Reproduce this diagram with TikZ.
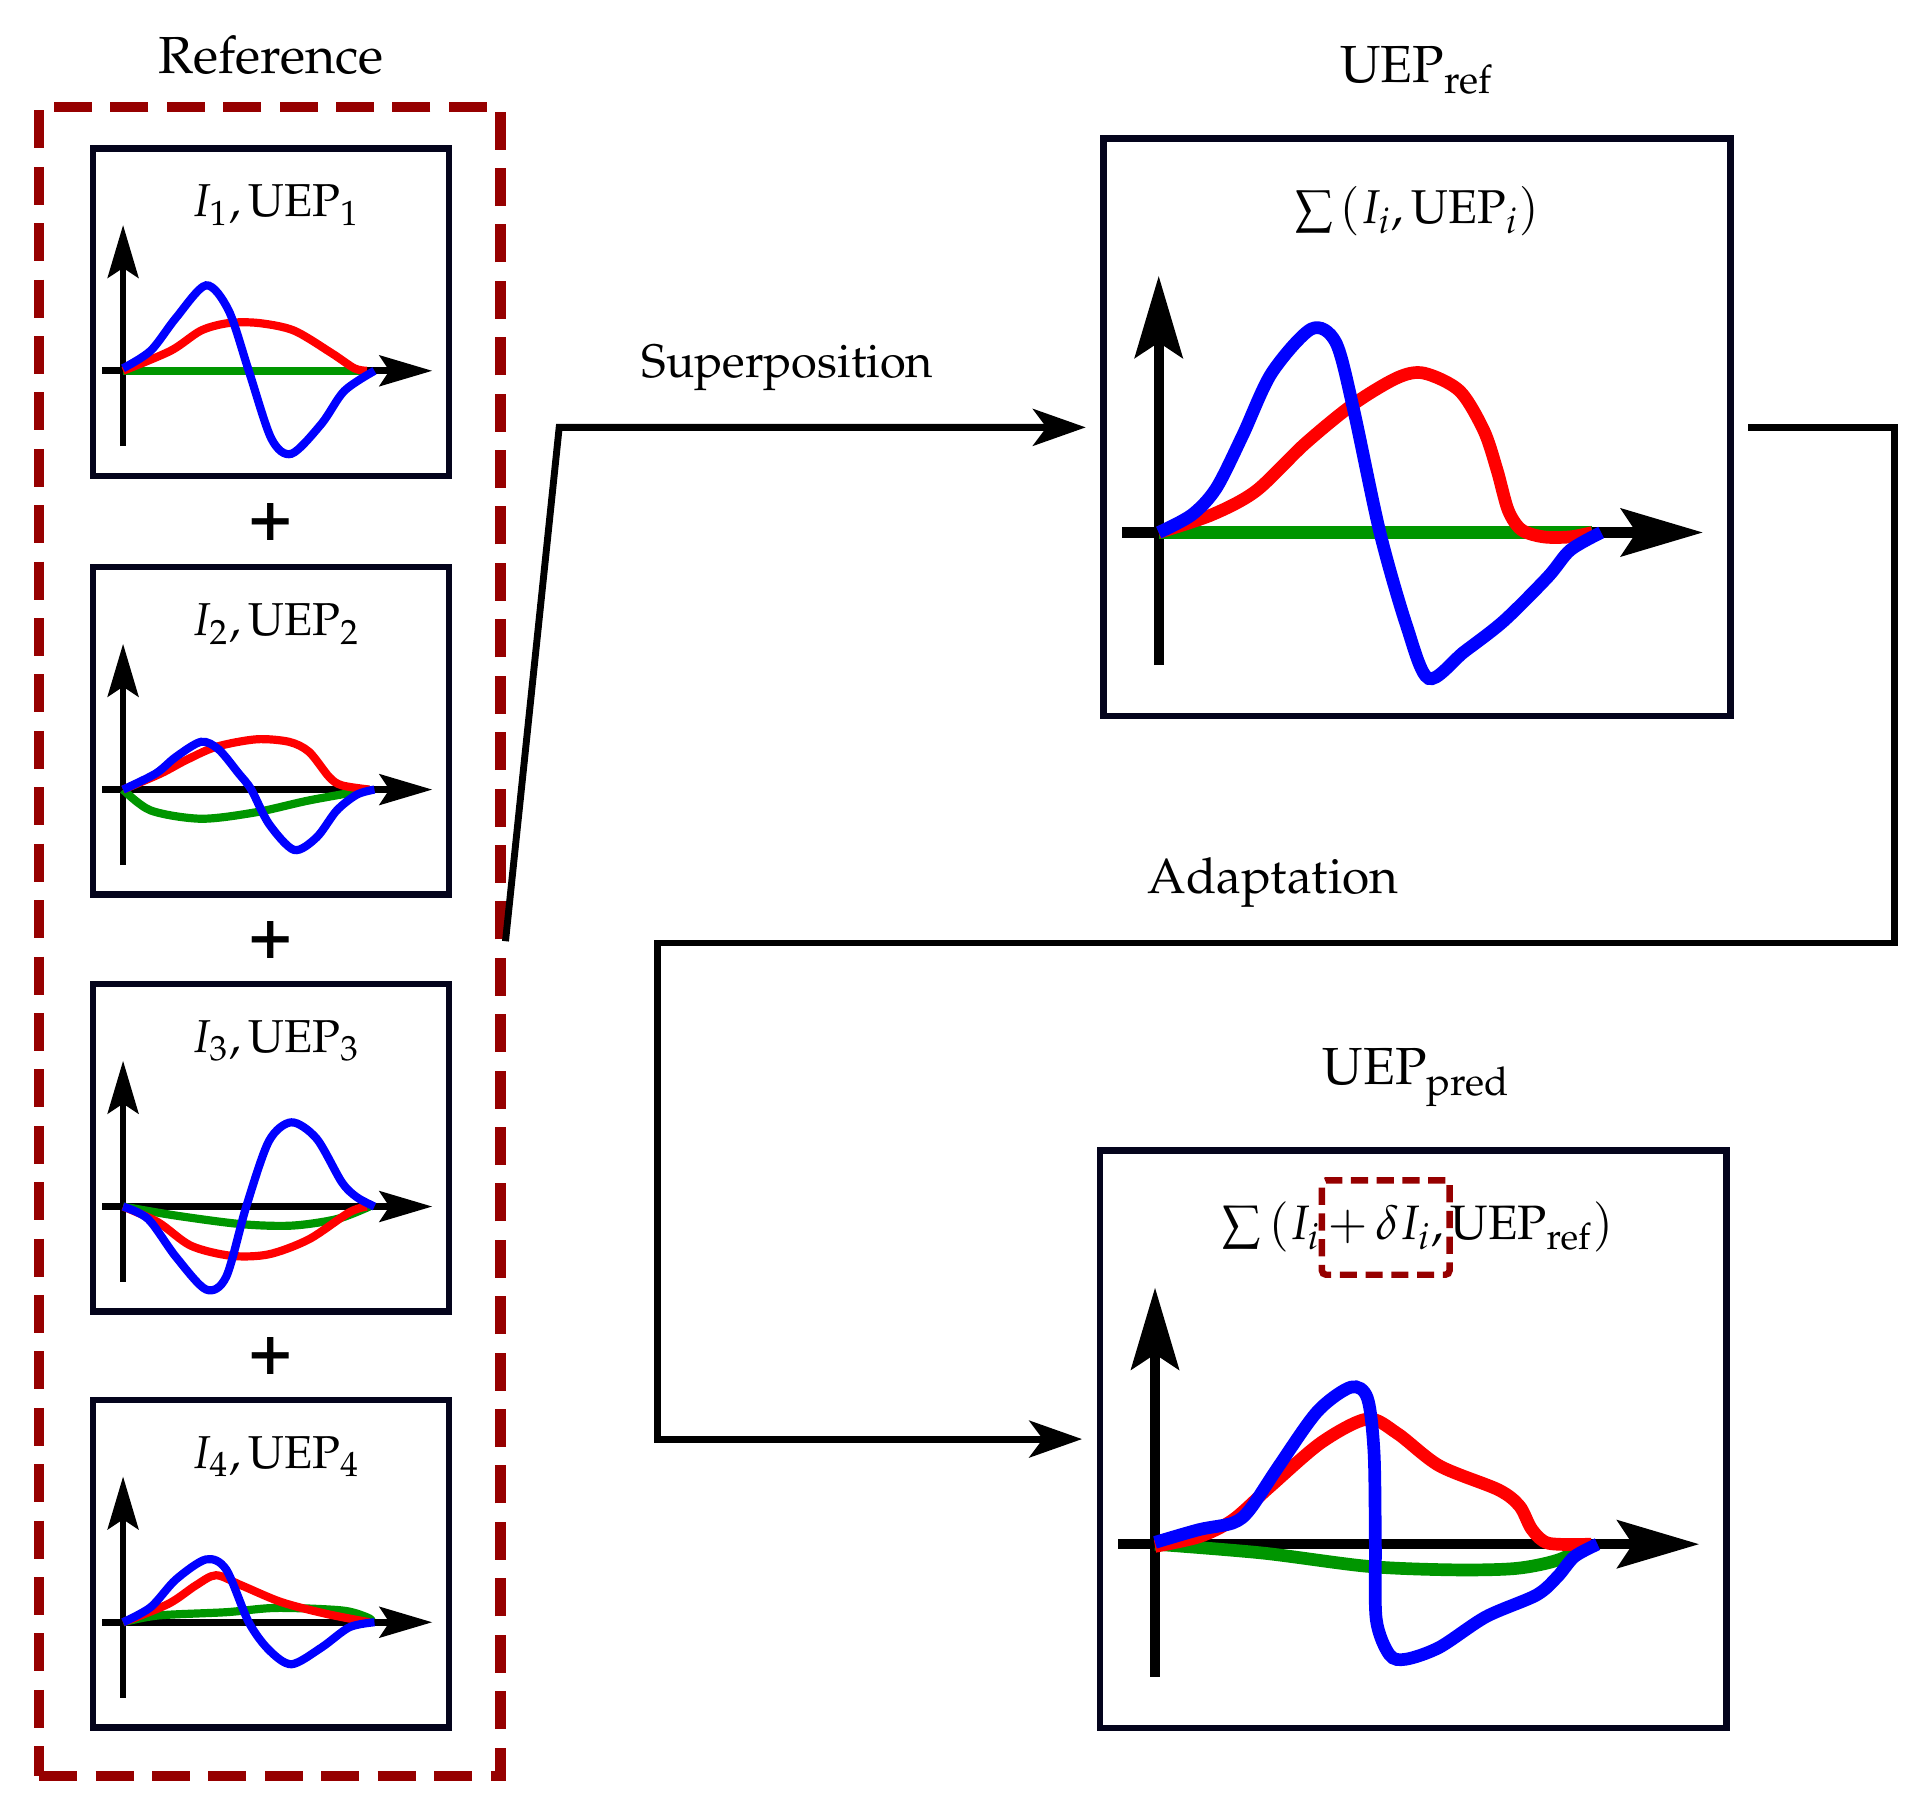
\documentclass[tikz,border=0pt]{standalone}
\usepackage[T1]{fontenc}
\usepackage{mathpazo}
\usepackage{amsmath}
\usetikzlibrary{arrows.meta,positioning,calc}

\definecolor{refred}{RGB}{150,0,0}
\definecolor{boxnavy}{RGB}{4,4,28}
\definecolor{curvegreen}{RGB}{0,150,0}

% axes of one panel, #1 = line/arrow factor
\newcommand{\drawaxes}[1]{%
  \draw[axis=#1] (-0.083,0) -- (1.23,0);
  \draw[axis=#1] (0,-0.30) -- (0,0.58);
}

\begin{document}
\begin{tikzpicture}[
  font=\fontsize{11.5}{14}\selectfont,
  title/.style={font=\fontsize{12.1}{14}\selectfont},
  boxlabel/.style={font=\fontsize{10.7}{13}\selectfont},
  panel/.style={draw=boxnavy, line width=1.5pt, minimum width=2.90cm, minimum height=2.67cm, inner sep=0pt},
  bigpanel/.style={panel, minimum width=5.11cm, minimum height=4.71cm},
  axis/.style={line width=1.55pt*#1, -{Stealth[length=4.3mm, width=2.5mm, inset=0.8mm, scale=#1]}},
  curve/.style={line width=1.9pt*#1},
  conn/.style={line width=1.6pt, -{Stealth[length=4.3mm, width=3mm, inset=1.1mm]}},
  dashbox/.style={draw=refred, line width=1.5pt, dash pattern=on 1.4mm off 0.7mm, rounded corners=1pt, inner xsep=0.5mm, inner ysep=0pt, minimum height=0.77cm, outer sep=0pt},
]
\useasboundingbox (0,0) rectangle (15.60,-14.77);

% Reference group
\node[draw=refred, line width=2.4pt, dash pattern=on 3.1mm off 1.5mm, minimum width=3.76cm, minimum height=13.61cm] (refbox) at (2.20,-7.675) {};
\node[title] (reftitle) at (2.21,-0.45) {Reference};

\node[panel] (p1) at (2.21,-2.545) {};
\node[panel] (p2) at (2.21,-5.96) {};
\node[panel] (p3) at (2.21,-9.36) {};
\node[panel] (p4) at (2.21,-12.75) {};

\node[boxlabel] (l1) at ($(p1.north)+(0.04,-0.49)$) {$I_1, \mathrm{UEP}_1$};
\node[boxlabel] (l2) at ($(p2.north)+(0.04,-0.49)$) {$I_2, \mathrm{UEP}_2$};
\node[boxlabel] (l3) at ($(p3.north)+(0.04,-0.49)$) {$I_3, \mathrm{UEP}_3$};
\node[boxlabel] (l4) at ($(p4.north)+(0.04,-0.49)$) {$I_4, \mathrm{UEP}_4$};

\foreach \a/\b in {p1/p2,p2/p3,p3/p4}
  \node[font=\fontsize{17}{18}\selectfont\bfseries] (plus-\a) at ($(\a.south)!0.5!(\b.north)$) {+};

% Superposed and predicted panels
\node[bigpanel] (uepref) at (11.555,-3.485) {};
\node[bigpanel] (ueppred) at (11.525,-11.735) {};

\node[title] (reftop) at ($(uepref.north)+(0,0.53)$) {$\mathrm{UEP}_{\mathrm{ref}}$};
\node[title] (predtop) at ($(ueppred.north)+(0.03,0.57)$) {$\mathrm{UEP}_{\mathrm{pred}}$};

\node[font=\fontsize{11}{13}\selectfont] (sumref) at ($(uepref.north)+(0,-0.62)$) {$\sum\,(I_i, \mathrm{UEP}_i)$};
\begin{scope}[font=\fontsize{11.2}{13}\selectfont]
\node[dashbox] (dI) at (11.30,-10.01) {$+\,\delta I_i,$};
\node[anchor=base east, inner sep=0pt] (sumA) at (dI.base west) {$\sum\,(I_i$};
\node[anchor=base west, inner sep=0pt] (sumC) at (dI.base east) {$\mathrm{UEP}_{\mathrm{ref}})$};
\end{scope}

% Connectors
\coordinate (sup) at (4.56,-3.485);
\draw[conn, shorten >=1.2mm] (refbox.east) -- (sup) -- (uepref.west);
\node[font=\fontsize{10.9}{13}\selectfont] (suplabel) at (6.42,-3.00) {Superposition};

\coordinate (adR) at (15.45,-3.485);
\coordinate (adL) at (5.36,-7.69);
\draw[conn, shorten <=1.2mm, shorten >=1.2mm] (uepref.east) -- (adR) |- (adL) |- (ueppred.west);
\node (adlabel) at (10.38,-7.20) {Adaptation};

% Panel 1
\begin{scope}[shift={(p1.north west)}, shift={(0.27,-1.84)}, scale=2.05]
\drawaxes{1}
\draw[curve=1, curvegreen] (0,0) -- (0.97,0);
\draw[curve=1, red] plot[smooth] coordinates {(0,0) (0.19,0.08) (0.31,0.16) (0.42,0.19) (0.54,0.19) (0.68,0.16) (0.83,0.07) (0.92,0.01) (0.97,0)};
\draw[curve=1, blue] plot[smooth] coordinates {(0,0.01) (0.11,0.08) (0.21,0.21) (0.33,0.34) (0.42,0.24) (0.50,0) (0.59,-0.27) (0.67,-0.33) (0.79,-0.21) (0.88,-0.08) (1.0,0)};
\end{scope}

% Panel 2
\begin{scope}[shift={(p2.north west)}, shift={(0.27,-1.84)}, scale=2.05]
\drawaxes{1}
\draw[curve=1, curvegreen] plot[smooth] coordinates {(0,0) (0.11,-0.083) (0.31,-0.116) (0.53,-0.09) (0.74,-0.043) (0.98,0)};
\draw[curve=1, red] plot[smooth] coordinates {(0,0) (0.15,0.064) (0.25,0.117) (0.37,0.17) (0.53,0.2) (0.66,0.19) (0.74,0.15) (0.82,0.05) (0.87,0.017) (0.98,0)};
\draw[curve=1, blue] plot[smooth] coordinates {(0,0) (0.13,0.064) (0.21,0.13) (0.31,0.19) (0.38,0.16) (0.46,0.064) (0.51,0) (0.58,-0.136) (0.68,-0.24) (0.77,-0.19) (0.85,-0.083) (0.93,-0.02) (1.0,0)};
\end{scope}

% Panel 3
\begin{scope}[shift={(p3.north west)}, shift={(0.27,-1.84)}, scale=2.05]
\drawaxes{1}
\draw[curve=1, curvegreen] plot[smooth] coordinates {(0,0) (0.21,-0.036) (0.47,-0.07) (0.67,-0.076) (0.85,-0.05) (0.98,0)};
\draw[curve=1, red] plot[smooth] coordinates {(0,0) (0.14,-0.063) (0.27,-0.156) (0.43,-0.196) (0.58,-0.19) (0.74,-0.13) (0.9,-0.023) (0.97,0)};
\draw[curve=1, blue] plot[smooth] coordinates {(0,0) (0.1,-0.05) (0.21,-0.2) (0.33,-0.33) (0.41,-0.28) (0.49,0) (0.58,0.26) (0.67,0.335) (0.77,0.27) (0.87,0.097) (0.93,0.037) (1.0,0)};
\end{scope}

% Panel 4
\begin{scope}[shift={(p4.north west)}, shift={(0.27,-1.84)}, scale=2.05]
\drawaxes{1}
\draw[curve=1, curvegreen] plot[smooth] coordinates {(0,0) (0.14,0.027) (0.41,0.04) (0.61,0.057) (0.87,0.047) (0.97,0.02) (0.99,0.005)};
\draw[curve=1, red] plot[smooth] coordinates {(0,0) (0.18,0.073) (0.29,0.147) (0.37,0.187) (0.47,0.147) (0.63,0.08) (0.81,0.033) (0.98,0)};
\draw[curve=1, blue] plot[smooth] coordinates {(0,0) (0.11,0.06) (0.21,0.17) (0.33,0.25) (0.41,0.21) (0.5,0) (0.58,-0.11) (0.67,-0.167) (0.79,-0.1) (0.9,-0.02) (1.0,0)};
\end{scope}

% Superposition panel
\begin{scope}[shift={(uepref.north west)}, scale=1.76, shift={(0.27,-1.84)}, scale=2.05]
\drawaxes{1.55}
\draw[curve=1.55, curvegreen] (0,0) -- (0.98,0);
\draw[curve=1.55, red] plot[smooth] coordinates {(0,0) (0.12,0.04) (0.22,0.094) (0.33,0.2) (0.44,0.29) (0.54,0.35) (0.6,0.36) (0.68,0.32) (0.735,0.23) (0.765,0.14) (0.79,0.05) (0.82,0.006) (0.87,-0.01) (0.93,-0.01) (0.98,0)};
\draw[curve=1.55, blue] plot[smooth] coordinates {(0,0) (0.075,0.04) (0.13,0.10) (0.19,0.22) (0.255,0.36) (0.345,0.46) (0.4,0.43) (0.44,0.28) (0.5,0) (0.56,-0.21) (0.61,-0.33) (0.69,-0.27) (0.78,-0.2) (0.88,-0.1) (0.93,-0.04) (1.0,0)};
\end{scope}

% Adapted panel
\begin{scope}[shift={(ueppred.north west)}, scale=1.76, shift={(0.27,-1.84)}, scale=2.05]
\drawaxes{1.55}
\draw[curve=1.55, curvegreen] plot[smooth] coordinates {(0,0) (0.243,-0.02) (0.48,-0.05) (0.67,-0.058) (0.814,-0.055) (0.91,-0.036) (0.986,0)};
\draw[curve=1.55, red] plot[smooth] coordinates {(0,-0.005) (0.1,0.017) (0.176,0.055) (0.26,0.13) (0.376,0.23) (0.48,0.283) (0.548,0.25) (0.643,0.177) (0.776,0.123) (0.824,0.086) (0.852,0.033) (0.89,0.002) (0.986,0)};
\draw[curve=1.55, blue] plot[smooth] coordinates {(0,0.004) (0.1,0.033) (0.176,0.048) (0.214,0.078) (0.28,0.177) (0.367,0.3) (0.443,0.355) (0.48,0.33) (0.495,0.207) (0.498,0) (0.5,-0.17) (0.53,-0.25) (0.567,-0.26) (0.643,-0.233) (0.748,-0.164) (0.862,-0.115) (0.91,-0.073) (0.948,-0.028) (1.0,0)};
\end{scope}
\end{tikzpicture}
\end{document}
